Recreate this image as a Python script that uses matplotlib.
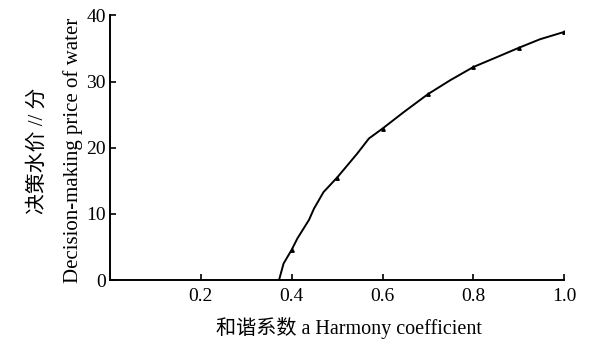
import matplotlib
matplotlib.use("Agg")
import matplotlib.pyplot as plt

# 曲线
harmony = [0.372, 0.382, 0.40, 0.4125, 0.438, 0.449, 0.470, 0.50, 0.544, 0.570,
           0.60, 0.647, 0.70, 0.749, 0.80, 0.852, 0.90, 0.947, 1.00]
price = [0.0, 2.5, 4.6, 6.3, 9.1, 10.8, 13.3, 15.5, 19.1, 21.4,
         22.9, 25.4, 28.1, 30.2, 32.2, 33.7, 35.1, 36.4, 37.5]
# 带标记的点
mark_x = [0.4, 0.5, 0.6, 0.7, 0.8, 0.9, 1.0]
mark_y = [4.6, 15.5, 22.9, 28.1, 32.2, 35.1, 37.5]

x_ticks = [0.2, 0.4, 0.6, 0.8, 1.0]
x_ticklabels = ["0.2", "0.4", "0.6", "0.8", "1.0"]
y_ticks = [0, 10, 20, 30, 40]

LAT = "Liberation Serif"
CJK = "Noto Sans CJK SC"

fig = plt.figure(figsize=(5.92, 3.42), dpi=100)
ax = fig.add_axes([0.186, 0.181, 0.767, 0.774])

ax.plot(harmony, price, color="black", lw=1.4)
ax.plot(mark_x, mark_y, ls="none", marker="^", ms=2.5, color="black")

ax.set_xlim(0, 1.0)
ax.set_ylim(0, 40)
ax.set_xticks(x_ticks)
ax.set_xticklabels(x_ticklabels)
ax.set_yticks(y_ticks)
for lab in ax.get_xticklabels() + ax.get_yticklabels():
    lab.set_family(LAT)
    lab.set_fontsize(14)

for s in ("top", "right"):
    ax.spines[s].set_visible(False)
for s in ("left", "bottom"):
    ax.spines[s].set_linewidth(1.4)
ax.tick_params(direction="in", length=4, width=1.2, pad=6)
ax.tick_params(axis="y", pad=3)

ax.set_xlabel("和谐系数 a Harmony coefficient", family=[LAT, CJK], fontsize=14.5)
ax.xaxis.set_label_coords(0.525, -0.14)
ax.set_ylabel("决策水价 // 分\nDecision-making price of water", family=[LAT, CJK],
              fontsize=15, linespacing=2.0)
ax.yaxis.set_label_coords(-0.06, 0.49)

fig.savefig("out.png", dpi=100)
